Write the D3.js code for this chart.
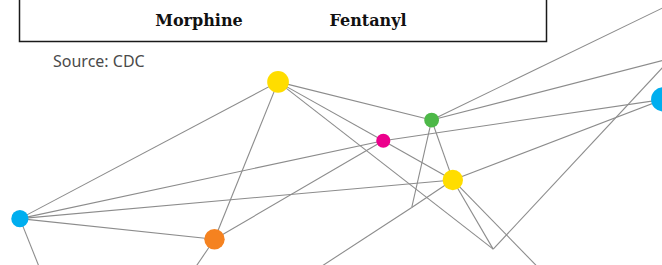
<!DOCTYPE html>
<html>
<head>
<meta charset="utf-8">
<script src="https://cdn.jsdelivr.net/npm/d3@7"></script>
<style>
  body { margin: 0; background: #fff; }
  svg { display: block; }
</style>
</head>
<body>
<svg id="chart"></svg>
<script>
'use strict';

// legend labels shown in the box at the top
var legendLabels = ['Morphine', 'Fentanyl'];
var sourceText = 'Source: CDC';

// nodes: position in percent of the picture, group and a size value
var nodeIds    = ['A', 'B', 'C', 'D', 'E', 'F', 'G', 'H', 'I', 'P1', 'P2', 'P3', 'P4', 'P5', 'P6', 'P7'];
var nodeX      = [42.0, 65.2, 57.9, 68.4, 3.0, 32.4, 100.2, 62.2, 74.5, 7.3, 27.2, 43.1, 84.6, 112.4, 105.7, 105.7];
var nodeY      = [30.9, 45.3, 53.1, 67.9, 82.5, 90.3, 37.5, 78.3, 94.0, 109.4, 109.4, 109.4, 109.4, -7.5, -3.8, 19.2];
var nodeGroup  = ['yellow', 'green', 'magenta', 'yellow', 'blue', 'orange', 'blue', 'none', 'none', 'none', 'none', 'none', 'none', 'none', 'none', 'none'];
var nodeValue  = [118, 55, 50, 104, 74, 104, 150, 0, 0, 0, 0, 0, 0, 0, 0, 0];

// links between nodes
var linkSource = ['E', 'E', 'E', 'E', 'E', 'A', 'A', 'A', 'A', 'F', 'F', 'C', 'C', 'B', 'B', 'B', 'B', 'D', 'D', 'H', 'D', 'D', 'I'];
var linkTarget = ['A', 'C', 'D', 'F', 'P1', 'F', 'B', 'C', 'I', 'C', 'P2', 'D', 'G', 'H', 'D', 'P6', 'P7', 'G', 'H', 'P3', 'I', 'P4', 'P5'];

var groups = ['yellow', 'green', 'magenta', 'blue', 'orange', 'none'];
var groupColors = ['#ffdd00', '#4db848', '#ec008c', '#00aeef', '#f58220', 'none'];

var canvasWidth = 662;
var canvasHeight = 265;

var svg = d3.select('#chart')
  .attr('width', canvasWidth)
  .attr('height', canvasHeight);

var xScale = d3.scaleLinear().domain([0, 100]).range([0, canvasWidth]);
var yScale = d3.scaleLinear().domain([0, 100]).range([0, canvasHeight]);
var rScale = d3.scaleSqrt().domain([0, 144]).range([0, 12]);
var color = d3.scaleOrdinal().domain(groups).range(groupColors);

var nodes = nodeIds.map(function(id, i) {
  return { id: id, x: nodeX[i], y: nodeY[i], group: nodeGroup[i], value: nodeValue[i] };
});
var byId = {};
nodes.forEach(function(n) { byId[n.id] = n; });
var links = linkSource.map(function(s, i) {
  return { source: byId[s], target: byId[linkTarget[i]] };
});

// lines first so the dots sit on top
svg.append('g')
  .selectAll('line')
  .data(links)
  .enter()
  .append('line')
  .attr('x1', d => xScale(d.source.x))
  .attr('y1', d => yScale(d.source.y))
  .attr('x2', d => xScale(d.target.x))
  .attr('y2', d => yScale(d.target.y))
  .attr('stroke', '#8c8c8c')
  .attr('stroke-width', 1.1);

svg.append('g')
  .selectAll('circle')
  .data(nodes.filter(d => d.value > 0))
  .enter()
  .append('circle')
  .attr('cx', d => xScale(d.x))
  .attr('cy', d => yScale(d.y))
  .attr('r', d => rScale(d.value))
  .attr('fill', d => color(d.group));

// legend box, its top runs off the picture
var legend = svg.append('g');
legend.append('rect')
  .attr('x', 19.5)
  .attr('y', -20)
  .attr('width', 527)
  .attr('height', 61.5)
  .attr('fill', '#fff')
  .attr('stroke', '#1a1a1a')
  .attr('stroke-width', 1.5);

var legendX = d3.scalePoint().domain(legendLabels).range([199, 368]);
legend.selectAll('text')
  .data(legendLabels)
  .enter()
  .append('text')
  .attr('x', d => legendX(d))
  .attr('y', 26)
  .attr('text-anchor', 'middle')
  .style('font-family', '"DejaVu Serif", serif')
  .style('font-weight', 'bold')
  .style('font-size', '16px')
  .style('fill', '#111')
  .text(d => d);

svg.append('text')
  .attr('x', 53)
  .attr('y', 67)
  .style('font-family', '"Noto Sans", sans-serif')
  .style('font-size', '16px')
  .style('fill', '#4a4a4a')
  .text(sourceText);
</script>
</body>
</html>
